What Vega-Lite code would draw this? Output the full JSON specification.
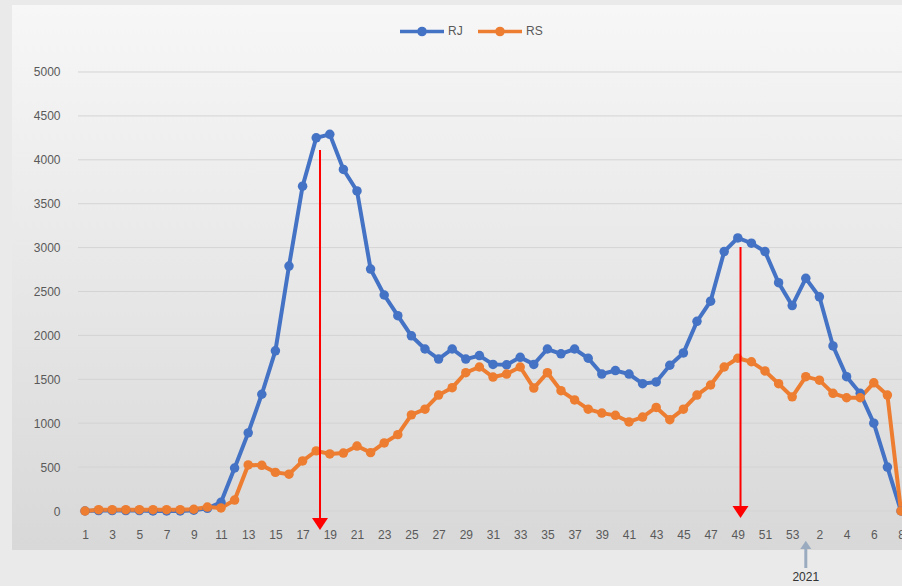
{
  "$schema": "https://vega.github.io/schema/vega-lite/v6.json",
  "width": 890,
  "height": 545,
  "autosize": {"type": "none"},
  "padding": {"left": 12, "top": 5, "right": 0, "bottom": 36},
  "background": "#e9eae9",
  "config": {
    "font": "Liberation Sans, sans-serif",
    "axis": {"labelOverlap": false, "labelFlush": false},
    "view": {
      "stroke": null,
      "fill": {"gradient": "linear", "x1": 0, "y1": 0, "x2": 0, "y2": 1,
        "stops": [{"offset": 0, "color": "#f7f7f7"}, {"offset": 1, "color": "#d8d8d8"}]}
    }
  },
  "datasets": {
    "series": [
      {"i":1,"s":"RJ","value":0},{"i":2,"s":"RJ","value":5},{"i":3,"s":"RJ","value":5},{"i":4,"s":"RJ","value":5},{"i":5,"s":"RJ","value":5},
      {"i":6,"s":"RJ","value":0},{"i":7,"s":"RJ","value":0},{"i":8,"s":"RJ","value":0},{"i":9,"s":"RJ","value":10},{"i":10,"s":"RJ","value":30},
      {"i":11,"s":"RJ","value":100},{"i":12,"s":"RJ","value":490},{"i":13,"s":"RJ","value":890},{"i":14,"s":"RJ","value":1330},{"i":15,"s":"RJ","value":1825},
      {"i":16,"s":"RJ","value":2790},{"i":17,"s":"RJ","value":3700},{"i":18,"s":"RJ","value":4250},{"i":19,"s":"RJ","value":4290},{"i":20,"s":"RJ","value":3890},
      {"i":21,"s":"RJ","value":3645},{"i":22,"s":"RJ","value":2755},{"i":23,"s":"RJ","value":2460},{"i":24,"s":"RJ","value":2225},{"i":25,"s":"RJ","value":1995},
      {"i":26,"s":"RJ","value":1845},{"i":27,"s":"RJ","value":1730},{"i":28,"s":"RJ","value":1845},{"i":29,"s":"RJ","value":1730},{"i":30,"s":"RJ","value":1770},
      {"i":31,"s":"RJ","value":1670},{"i":32,"s":"RJ","value":1665},{"i":33,"s":"RJ","value":1750},{"i":34,"s":"RJ","value":1670},{"i":35,"s":"RJ","value":1845},
      {"i":36,"s":"RJ","value":1790},{"i":37,"s":"RJ","value":1845},{"i":38,"s":"RJ","value":1740},{"i":39,"s":"RJ","value":1560},{"i":40,"s":"RJ","value":1600},
      {"i":41,"s":"RJ","value":1560},{"i":42,"s":"RJ","value":1450},{"i":43,"s":"RJ","value":1470},{"i":44,"s":"RJ","value":1660},{"i":45,"s":"RJ","value":1800},
      {"i":46,"s":"RJ","value":2160},{"i":47,"s":"RJ","value":2390},{"i":48,"s":"RJ","value":2955},{"i":49,"s":"RJ","value":3110},{"i":50,"s":"RJ","value":3050},
      {"i":51,"s":"RJ","value":2955},{"i":52,"s":"RJ","value":2600},{"i":53,"s":"RJ","value":2340},{"i":54,"s":"RJ","value":2650},{"i":55,"s":"RJ","value":2440},
      {"i":56,"s":"RJ","value":1880},{"i":57,"s":"RJ","value":1530},{"i":58,"s":"RJ","value":1340},{"i":59,"s":"RJ","value":1000},{"i":60,"s":"RJ","value":500},
      {"i":61,"s":"RJ","value":0},
      {"i":1,"s":"RS","value":0},{"i":2,"s":"RS","value":15},{"i":3,"s":"RS","value":15},{"i":4,"s":"RS","value":15},{"i":5,"s":"RS","value":15},
      {"i":6,"s":"RS","value":15},{"i":7,"s":"RS","value":15},{"i":8,"s":"RS","value":15},{"i":9,"s":"RS","value":20},{"i":10,"s":"RS","value":45},
      {"i":11,"s":"RS","value":35},{"i":12,"s":"RS","value":125},{"i":13,"s":"RS","value":525},{"i":14,"s":"RS","value":520},{"i":15,"s":"RS","value":440},
      {"i":16,"s":"RS","value":420},{"i":17,"s":"RS","value":570},{"i":18,"s":"RS","value":685},{"i":19,"s":"RS","value":650},{"i":20,"s":"RS","value":660},
      {"i":21,"s":"RS","value":740},{"i":22,"s":"RS","value":665},{"i":23,"s":"RS","value":775},{"i":24,"s":"RS","value":870},{"i":25,"s":"RS","value":1095},
      {"i":26,"s":"RS","value":1160},{"i":27,"s":"RS","value":1320},{"i":28,"s":"RS","value":1405},{"i":29,"s":"RS","value":1575},{"i":30,"s":"RS","value":1640},
      {"i":31,"s":"RS","value":1525},{"i":32,"s":"RS","value":1560},{"i":33,"s":"RS","value":1640},{"i":34,"s":"RS","value":1400},{"i":35,"s":"RS","value":1575},
      {"i":36,"s":"RS","value":1370},{"i":37,"s":"RS","value":1265},{"i":38,"s":"RS","value":1160},{"i":39,"s":"RS","value":1115},{"i":40,"s":"RS","value":1090},
      {"i":41,"s":"RS","value":1015},{"i":42,"s":"RS","value":1070},{"i":43,"s":"RS","value":1180},{"i":44,"s":"RS","value":1040},{"i":45,"s":"RS","value":1160},
      {"i":46,"s":"RS","value":1320},{"i":47,"s":"RS","value":1435},{"i":48,"s":"RS","value":1640},{"i":49,"s":"RS","value":1740},{"i":50,"s":"RS","value":1700},
      {"i":51,"s":"RS","value":1595},{"i":52,"s":"RS","value":1450},{"i":53,"s":"RS","value":1300},{"i":54,"s":"RS","value":1530},{"i":55,"s":"RS","value":1490},
      {"i":56,"s":"RS","value":1340},{"i":57,"s":"RS","value":1290},{"i":58,"s":"RS","value":1290},{"i":59,"s":"RS","value":1460},{"i":60,"s":"RS","value":1320},
      {"i":61,"s":"RS","value":0}
    ],
    "grid": [{"value":0},{"value":500},{"value":1000},{"value":1500},{"value":2000},{"value":2500},{"value":3000},{"value":3500},{"value":4000},{"value":4500},{"value":5000}],
    "arrows": [{"i":18.28,"value":4112,"end":-148},{"i":49.2,"value":3007,"end":-11}],
    "note": [{"i":54,"head":-387,"value":-421,"end":-649,"txt":-752,"label":"2021"}]
  },
  "layer": [
    {
      "data": {"name": "grid"},
      "mark": {"type": "rule", "color": "#d4d4d4", "strokeWidth": 1},
      "encoding": {
        "y": {"field": "value", "type": "quantitative"},
        "x": {"datum": 0.485},
        "x2": {"datum": 61.07}
      }
    },
    {
      "data": {"name": "series"},
      "mark": {"type": "line", "strokeWidth": 4, "point": {"filled": true, "size": 90, "opacity": 1}},
      "encoding": {
        "x": {
          "field": "i", "type": "quantitative",
          "scale": {"domain": [-4.368, 61.074], "nice": false, "zero": false},
          "axis": {
            "title": null, "grid": false, "domain": false, "ticks": false, "tickCount": 100,
            "values": [1,3,5,7,9,11,13,15,17,19,21,23,25,27,29,31,33,35,37,39,41,43,45,47,49,51,53,55,57,59,61],
            "labelExpr": "datum.value > 53 ? datum.value - 53 : datum.value",
            "offset": -21, "labelPadding": 0, "labelFontSize": 12, "labelColor": "#595959",
            "labelOverlap": false, "labelFlush": false, "labelBound": false
          }
        },
        "y": {
          "field": "value", "type": "quantitative",
          "scale": {"domain": [-444, 5763], "nice": false, "zero": false},
          "axis": {
            "title": null, "grid": false, "domain": false, "ticks": false, "format": "d",
            "values": [0,500,1000,1500,2000,2500,3000,3500,4000,4500,5000],
            "offset": -50, "labelPadding": 2, "labelFontSize": 12, "labelColor": "#595959"
          }
        },
        "color": {
          "field": "s", "type": "nominal",
          "scale": {"domain": ["RJ", "RS"], "range": ["#4472C4", "#ED7D31"]},
          "legend": {
            "title": null, "orient": "none", "legendX": 386, "legendY": 2, "direction": "horizontal",
            "symbolType": "M-1,0L1,0M-0.14,0A0.14,0.14,0,1,0,0.14,0A0.14,0.14,0,1,0,-0.14,0Z",
            "symbolSize": 1936, "symbolStrokeWidth": 3.5,
            "labelFontSize": 12, "labelColor": "#595959", "labelOffset": 2,
            "columnPadding": 8, "padding": 0,
            "encode": {"symbols": {"update": {
              "fill": {"scale": "color", "field": "value"},
              "stroke": {"scale": "color", "field": "value"},
              "opacity": {"value": 1}
            }}}
          }
        }
      }
    },
    {
      "data": {"name": "arrows"},
      "mark": {"type": "rule", "color": "#ff0000", "strokeWidth": 2},
      "encoding": {
        "x": {"field": "i", "type": "quantitative"},
        "y": {"field": "value", "type": "quantitative"},
        "y2": {"field": "end"}
      }
    },
    {
      "data": {"name": "arrows"},
      "mark": {"type": "point", "shape": "M-1,-0.75L1,-0.75L0,0.75Z", "filled": true, "color": "#ff0000", "size": 256, "opacity": 1},
      "encoding": {
        "x": {"field": "i", "type": "quantitative"},
        "y": {"field": "end", "type": "quantitative"}
      }
    },
    {
      "data": {"name": "note"},
      "mark": {"type": "rule", "color": "#9aabc0", "strokeWidth": 3},
      "encoding": {
        "x": {"field": "i", "type": "quantitative"},
        "y": {"field": "value", "type": "quantitative"},
        "y2": {"field": "end"}
      }
    },
    {
      "data": {"name": "note"},
      "mark": {"type": "point", "shape": "M-1,0.75L1,0.75L0,-0.75Z", "filled": true, "color": "#9aabc0", "size": 121, "opacity": 1},
      "encoding": {
        "x": {"field": "i", "type": "quantitative"},
        "y": {"field": "head", "type": "quantitative"}
      }
    },
    {
      "data": {"name": "note"},
      "mark": {"type": "text", "fontSize": 12, "color": "#333333"},
      "encoding": {
        "x": {"field": "i", "type": "quantitative"},
        "y": {"field": "txt", "type": "quantitative"},
        "text": {"field": "label"}
      }
    }
  ]
}
